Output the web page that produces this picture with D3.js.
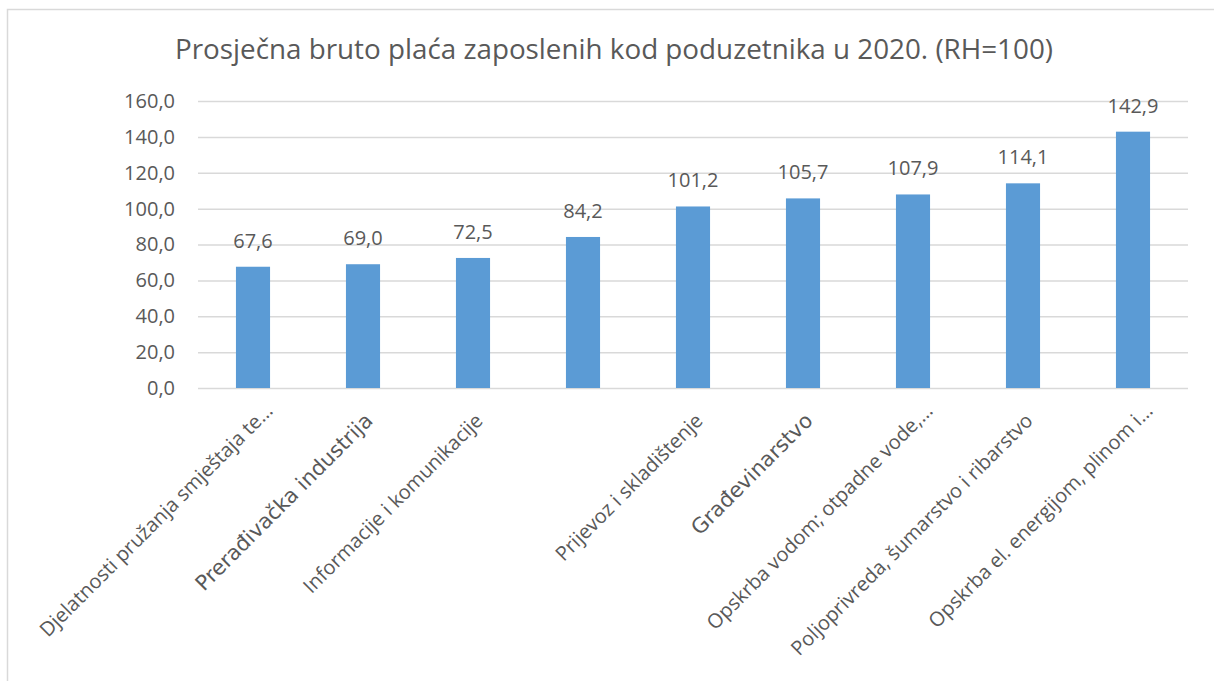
<!DOCTYPE html>
<html>
<head>
<meta charset="utf-8">
<script src="https://cdn.jsdelivr.net/npm/d3@7"></script>
<style>
  body { margin: 0; background: #fff; }
  svg text { fill: #595959; }
</style>
</head>
<body>
<div id="chart"></div>
<script>
const categories = [
    "Djelatnosti pružanja smještaja te…",
    "Prerađivačka industrija",
    "Informacije i komunikacije",
    "",
    "Prijevoz i skladištenje",
    "Građevinarstvo",
    "Opskrba vodom; otpadne vode,…",
    "Poljoprivreda, šumarstvo i ribarstvo",
    "Opskrba el. energijom, plinom i…"
]
const values = [67.6, 69.0, 72.5, 84.2, 101.2, 105.7, 107.9, 114.1, 142.9]
const yTicks = [0, 20, 40, 60, 80, 100, 120, 140, 160]
const title = "Prosječna bruto plaća zaposlenih kod poduzetnika u 2020. (RH=100)"
// these two labels are rendered in another font in the original
const otherFont = ["Prerađivačka industrija", "Građevinarstvo"]

const W = 1214, H = 681
const margin = {top: 101, right: 26, bottom: 293, left: 198},
    w = W - margin.left - margin.right,
    h = H - margin.top - margin.bottom;

const fmt = v => v.toFixed(1).replace(".", ",")

var svg = d3.select("#chart")
    .append("svg")
    .attr("width", W)
    .attr("height", H)

// chart frame
svg.append("rect")
    .attr("x", 7.5).attr("y", 9.5)
    .attr("width", W).attr("height", H)
    .attr("fill", "none")
    .attr("stroke", "#d9d9d9")
    .attr("stroke-width", 1.5)

svg.append("text")
    .attr("x", 614)
    .attr("y", 59)
    .attr("text-anchor", "middle")
    .attr("textLength", 878)
    .attr("lengthAdjust", "spacingAndGlyphs")
    .style("font-family", "'Open Sans', sans-serif")
    .style("font-size", "27.5px")
    .text(title)

var g = svg.append("g")
    .attr("transform", `translate(${margin.left}, ${margin.top})`)

var x = d3.scaleBand()
    .domain(d3.range(categories.length))
    .range([0, w])
    .paddingInner(0.69)
    .paddingOuter(0.345)

var y = d3.scaleLinear()
    .domain([0, 160])
    .range([h, 0])

// gridlines + y labels
var yAxis = g.append("g")
    .call(d3.axisLeft(y).tickValues(yTicks).tickSize(-w).tickFormat(fmt).tickPadding(23))
yAxis.select(".domain").remove()
yAxis.selectAll(".tick line")
    .attr("stroke", "#d9d9d9")
    .attr("stroke-width", 1.5)
yAxis.selectAll(".tick text")
    .style("font-family", "'Open Sans', sans-serif")
    .style("font-size", "20px")
    .attr("fill", "#595959")

g.selectAll("rect.bar")
    .data(values)
    .join("rect")
    .attr("class", "bar")
    .attr("x", (d, i) => x(i))
    .attr("y", d => y(d))
    .attr("width", x.bandwidth())
    .attr("height", d => h - y(d))
    .attr("fill", "#5b9bd5")

g.selectAll("text.val")
    .data(values)
    .join("text")
    .attr("class", "val")
    .attr("x", (d, i) => x(i) + x.bandwidth() / 2)
    .attr("y", d => y(d) - 19)
    .attr("text-anchor", "middle")
    .style("font-family", "'Open Sans', sans-serif")
    .style("font-size", "20px")
    .text(fmt)

// truncated labels sit a little further along their baseline
g.selectAll("text.cat")
    .data(categories)
    .join("text")
    .attr("class", "cat")
    .attr("text-anchor", "end")
    .attr("transform", (d, i) => `translate(${x(i) + x.bandwidth() / 2 + 11}, ${h + 34}) rotate(-45)`)
    .attr("dx", d => d.endsWith("…") ? 14 : 0)
    .style("font-family", d => otherFont.includes(d) ? "'DejaVu Sans', sans-serif" : "'Open Sans', sans-serif")
    .style("font-size", d => otherFont.includes(d) ? "21px" : "20px")
    .text(d => d)
</script>
</body>
</html>
